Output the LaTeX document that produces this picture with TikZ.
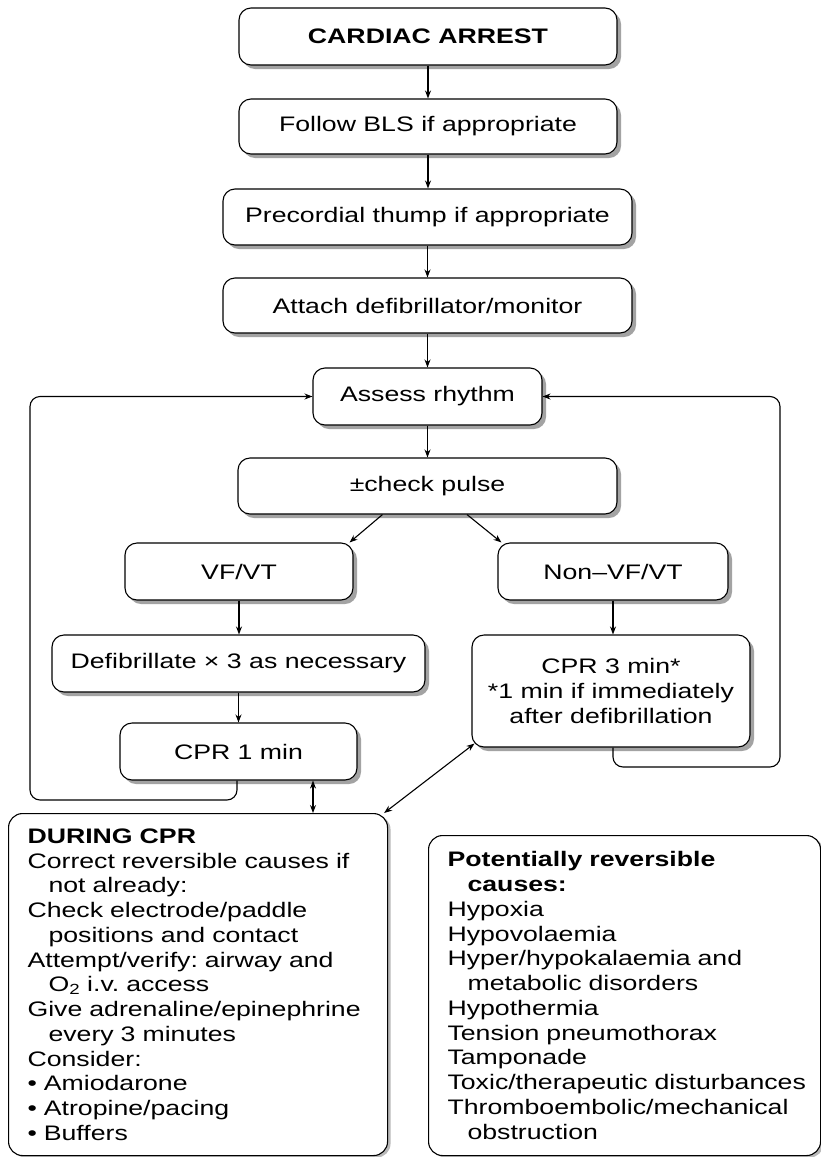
\documentclass[tikz,border=0pt]{standalone}
\usepackage{fontspec}
\setmainfont{Liberation Sans}[FakeStretch=1.27]
\usetikzlibrary{shadows,arrows.meta,calc}
\begin{document}
\frenchspacing
\begin{tikzpicture}[x=1pt,y=-1pt,
  every node/.style={font=\fontsize{21}{24.75}\selectfont},
  flow/.style={draw, line width=1.1pt, rounded corners=12pt, fill=white,
    drop shadow={shadow xshift=4pt, shadow yshift=-4pt, fill=black!60, opacity=0.6},
    inner sep=0pt, align=center},
  big/.style={draw, line width=1.1pt, rounded corners=14pt, fill=white,
    drop shadow={shadow xshift=3pt, shadow yshift=-2pt, fill=black!50, opacity=0.55},
    align=left, inner xsep=19pt, inner ysep=0pt},
  conn/.style={line width=1.1pt, -{Stealth[length=8pt,width=6pt]}},
  both/.style={line width=1.1pt, {Stealth[length=8pt,width=6pt]}-{Stealth[length=8pt,width=6pt]}},
  loopline/.style={conn, rounded corners=10pt},
]
\fill[white] (0,0) rectangle (821,1157);
\useasboundingbox (0,0) rectangle (821,1157);

\node[flow, minimum width=378pt, minimum height=57pt] (ca) at (428,36.5) {\bfseries CARDIAC ARREST};
\node[flow, minimum width=378pt, minimum height=55pt] (bls) at (428,126.5) {Follow BLS if appropriate};
\node[flow, minimum width=409pt, minimum height=56pt] (thump) at (427.5,217) {Precordial thump if appropriate};
\node[flow, minimum width=409pt, minimum height=55pt] (attach) at (427.5,305.5) {Attach defibrillator/monitor};
\node[flow, minimum width=229pt, minimum height=57pt] (assess) at (427.5,396.5) {Assess rhythm};
\node[flow, minimum width=379pt, minimum height=56pt] (pulse) at (427.5,486) {±check pulse};
\node[flow, minimum width=228pt, minimum height=57pt] (vf) at (239,571.5) {VF/VT};
\node[flow, minimum width=230pt, minimum height=57pt] (nvf) at (613,571.5) {Non–VF/VT};
\node[flow, minimum width=373pt, minimum height=57pt] (defib) at (238.5,663.5) {Defibrillate × 3 as necessary};
\node[flow, minimum width=237pt, minimum height=57pt] (cpr1) at (238.5,751.5) {CPR 1 min};
\node[flow, minimum width=278pt, minimum height=112pt] (cpr3) at (611,691) {CPR 3 min*\\*1 min if immediately\\after defibrillation};

\node[big, anchor=north west, text width=341pt, minimum height=342pt] (during) at (8,813) {%
{\bfseries DURING CPR}\\
\mbox{Correct reversible causes if}\\
\hspace*{21pt}not already:\\
Check electrode/paddle\\
\hspace*{21pt}positions and contact\\
\mbox{Attempt/verify: airway and}\\
\hspace*{21pt}O\textsubscript{2} i.v. access\\
\mbox{Give adrenaline/epinephrine}\\
\hspace*{21pt}every 3 minutes\\
Consider:\\
• Amiodarone\\
• Atropine/pacing\\
• Buffers};

\node[big, anchor=north west, text width=354pt, minimum height=320pt] (causes) at (428,835) {%
{\bfseries Potentially reversible}\\
\hspace*{20pt}{\bfseries causes:}\\
Hypoxia\\
Hypovolaemia\\
\mbox{Hyper/hypokalaemia and}\\
\hspace*{20pt}metabolic disorders\\
Hypothermia\\
Tension pneumothorax\\
Tamponade\\
\mbox{Toxic/therapeutic disturbances}\\
\mbox{Thromboembolic/mechanical}\\
\hspace*{20pt}obstruction};

% main chain
\draw[conn] (ca.south) -- (ca.south |- bls.north);
\draw[conn] (bls.south) -- (bls.south |- thump.north);
\draw[conn] (thump.south) -- (thump.south |- attach.north);
\draw[conn] (attach.south) -- (attach.south |- assess.north);
\draw[conn] (assess.south) -- (assess.south |- pulse.north);
\draw[conn] ([xshift=-45pt]pulse.south) -- ([xshift=-4pt]vf.north east);
\draw[conn] ([xshift=39.5pt]pulse.south) -- ([xshift=4pt]nvf.north west);
\draw[conn] (vf.south) -- (vf.south |- defib.north);
\draw[conn] (defib.south) -- (defib.south |- cpr1.north);
\draw[conn] (nvf.south) -- (nvf.south |- cpr3.north);

% loops
\coordinate (lb) at (30,800);
\coordinate (rb) at (780,767);
\draw[loopline] ([xshift=-1.5pt]cpr1.south) |- (lb) |- (assess.west);
\draw[loopline] ([xshift=2pt]cpr3.south) |- (rb) |- (assess.east);

% links to during CPR
\draw[both] ([xshift=74.5pt]cpr1.south) -- ([xshift=74.5pt]cpr1.south |- during.north);
\draw[both] ([xshift=-4pt]during.north east) -- ([xshift=3pt,yshift=4pt]cpr3.south west);
\end{tikzpicture}
\end{document}
